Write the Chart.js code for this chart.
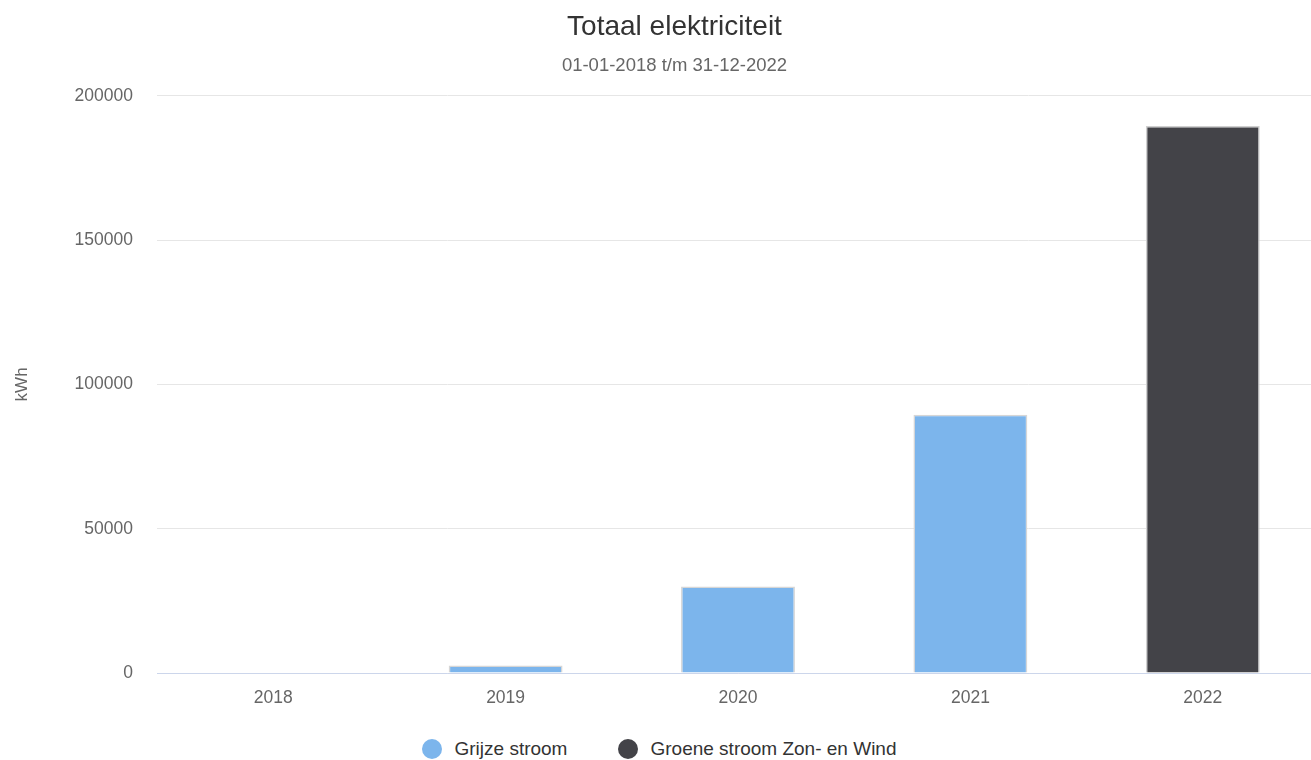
<!DOCTYPE html>
<html>
<head>
<meta charset="utf-8">
<script src="https://cdn.jsdelivr.net/npm/chart.js@4"></script>
<style>
  html, body { margin: 0; padding: 0; background: #fff; overflow: hidden; }
  /* canvas is a bit wider than the window: the original plot runs past the right edge */
  #page { position: relative; width: 1319px; height: 760px; }
  #wrap { position: absolute; left: 0; top: 0; width: 1319px; height: 720px; }
  #legend {
    position: absolute; left: 0; top: 738px; width: 1319px; height: 22px;
    display: flex; justify-content: center; align-items: center; gap: 51px;
    font-family: 'Liberation Sans', Arial, Helvetica, sans-serif;
    font-size: 19px; color: #333;
  }
  .legend-item { display: flex; align-items: center; gap: 12px; white-space: nowrap; }
  .legend-dot { width: 20px; height: 20px; border-radius: 50%; }
</style>
</head>
<body>
<div id="page">
  <div id="wrap"><canvas id="chart"></canvas></div>
  <div id="legend"></div>
</div>
<script>
const years = ['2018', '2019', '2020', '2021', '2022'];
const grijzeStroom = [0, 2600, 30000, 89500, 0];
const groeneStroom = [0, 0, 0, 0, 189500];
const yTicks = [0, 50000, 100000, 150000, 200000];

const FONT = "'Liberation Sans', Arial, Helvetica, sans-serif";
const TITLE_SHIFT = 11;

// nudge title + subtitle a little to the right, as in the original
const shiftTitles = {
    id: 'shiftTitles',
    afterLayout(chart) {
        chart.boxes.forEach(box => {
            if (box === chart.legend || box.type !== undefined) return;
            if (box.options && typeof box.options.text === 'string' && box.options.text) {
                box.left += TITLE_SHIFT;
                box.right += TITLE_SHIFT;
            }
        });
    }
};

function renderLegend(chart) {
    const legendEl = document.getElementById('legend');
    legendEl.innerHTML = '';
    chart.data.datasets.forEach(ds => {
        const item = document.createElement('div');
        item.className = 'legend-item';
        const dot = document.createElement('span');
        dot.className = 'legend-dot';
        dot.style.background = ds.backgroundColor;
        const text = document.createElement('span');
        text.textContent = ds.label;
        item.appendChild(dot);
        item.appendChild(text);
        legendEl.appendChild(item);
    });
}

function buildChart() {
    const ctx = document.getElementById('chart').getContext('2d');
    const chart = new Chart(ctx, {
        type: 'bar',
        data: {
            labels: years,
            datasets: [{
                label: 'Grijze stroom',
                data: grijzeStroom,
                backgroundColor: '#7cb5ec',
                borderColor: '#d6d6d6',
                borderWidth: 1.5,
                borderSkipped: 'bottom'
            }, {
                label: 'Groene stroom Zon- en Wind',
                data: groeneStroom,
                backgroundColor: '#434348',
                borderColor: '#cfcfcf',
                borderWidth: 1.5,
                borderSkipped: 'bottom'
            }]
        },
        plugins: [shiftTitles],
        options: {
            responsive: true,
            maintainAspectRatio: false,
            animation: false,
            layout: { padding: { left: 8, right: 0, top: 0, bottom: 4 } },
            datasets: {
                bar: { barPercentage: 1, categoryPercentage: 0.49 }
            },
            plugins: {
                title: {
                    display: true,
                    text: 'Totaal elektriciteit',
                    color: '#333333',
                    font: { family: FONT, size: 28, weight: 'normal' },
                    padding: { top: 10, bottom: 11 }
                },
                subtitle: {
                    display: true,
                    text: '01-01-2018 t/m 31-12-2022',
                    color: '#666666',
                    font: { family: FONT, size: 18.5, weight: 'normal' },
                    padding: { top: 0, bottom: 19 }
                },
                legend: { display: false },
                tooltip: { enabled: false }
            },
            scales: {
                x: {
                    stacked: true,
                    grid: { display: false },
                    border: { display: true, color: '#ccd6eb', width: 1 },
                    ticks: {
                        color: '#666666',
                        font: { family: FONT, size: 17.5 },
                        padding: 7
                    }
                },
                y: {
                    stacked: true,
                    min: 0,
                    max: 200000,
                    afterBuildTicks: scale => {
                        scale.ticks = yTicks.map(v => ({ value: v }));
                    },
                    afterFit: scale => { scale.width = 149; },
                    grid: { color: '#e6e6e6', drawTicks: false },
                    border: { display: false },
                    title: {
                        display: true,
                        text: 'kWh',
                        color: '#666666',
                        font: { family: FONT, size: 17 },
                        padding: { bottom: 42 }
                    },
                    ticks: {
                        color: '#666666',
                        font: { family: FONT, size: 17.5 },
                        padding: 24,
                        callback: value => String(value)
                    }
                }
            }
        }
    });
    renderLegend(chart);
}

document.addEventListener('DOMContentLoaded', buildChart);
</script>
</body>
</html>
